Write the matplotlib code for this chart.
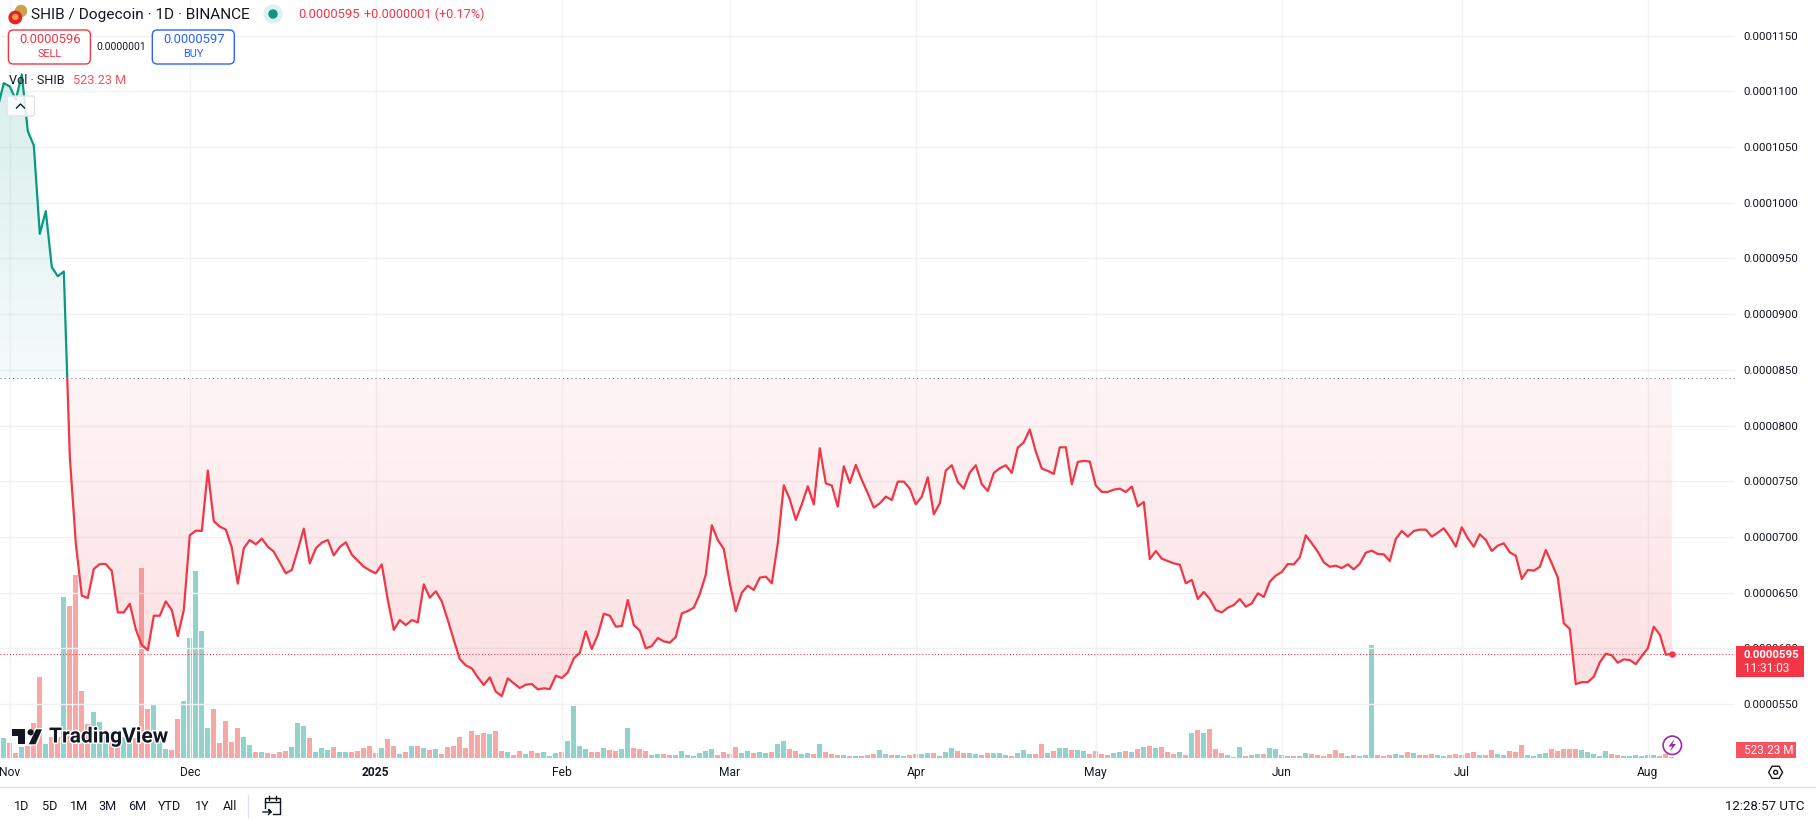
import numpy as np
import matplotlib
matplotlib.use("Agg")
import matplotlib.pyplot as plt
import matplotlib.patheffects as pe
from matplotlib.patches import Rectangle, FancyBboxPatch, Circle, Polygon

plt.rcParams['font.family'] = ['Roboto', 'DejaVu Sans']

# --- Data ---
# daily close in units of 0.0000001, first day is just off the left edge
close = [1086, 1107.4, 1104.4, 1092.5, 1115.2, 1064.3, 1051.5, 972.1, 992.5, 942.2, 934.1, 938.3,
         772, 694.3, 647.3, 645.2, 671.3, 675.7, 675.7, 669.4, 632.3, 632.3,
         640.1, 617.1, 603, 598.5, 629.3, 629.3, 642.2, 634.4, 611, 634.4,
         701.5, 705.7, 705.4, 759.6, 714.1, 709.3, 706.6, 690.4, 658.1, 689.8,
         697.3, 693.4, 698.5, 691.3, 686.8, 677, 667.4, 670.4, 688.3, 707.5,
         676.3, 689.8, 694.9, 697.3, 683.5, 691, 695.2, 684.1, 678.7, 673.3,
         670, 667.4, 675.4, 643.4, 616.5, 625.4, 620.9, 625.4, 623.3, 657.5,
         645.5, 651.2, 642.2, 625.4, 607.5, 590.4, 584.7, 582, 574, 567.1,
         574, 561.1, 557.2, 573.1, 568.6, 564.4, 567.4, 568, 563.2, 564.1,
         563.5, 575.4, 573.4, 578.4, 591, 596.1, 615.3, 599.4, 612,
         631.1, 629.3, 619.5, 620.1, 643.4, 620.9, 615.9, 600, 602.1, 609.3,
         606.3, 605.1, 610.2, 631.4, 633.5, 636.5, 648.8, 666.2, 710.5, 697.3,
         689.2, 658.4, 633.2, 650, 656.3, 652.4, 663.5, 664.4, 658.4, 694.3,
         746.4, 733.8, 715.3, 729.3, 745.5, 729.3, 779.6, 748.2, 746.1, 727.2,
         763.5, 748.5, 764.7, 751.2, 739.2, 726.3, 730.2, 736.2, 733.2, 749.7,
         749.7, 743.4, 729.3, 736.2, 753.6, 720.4, 730.2, 759.6, 764.4, 749.4,
         743.4, 757.8, 764.4, 747.3, 741.3, 757.5, 761.7, 764.4, 757.5, 780.2,
         785, 796.4, 776.6, 761.4, 759.3, 756.6, 780.5, 780.5, 747.3, 767.4,
         768.3, 767.7, 746.1, 740.4, 740.4, 742.5, 743.4, 740.4, 745.2, 727.5,
         731.4, 680.2, 687.4, 680.5, 678.4, 676.3, 675.1, 658.4, 661.4, 644.3,
         650.6, 644.3, 634.4, 632.3, 636.5, 638.9, 644.3, 637.4, 640.4, 649.4,
         646.1, 659.9, 665.3, 668.6, 675.7, 675.4, 681.7, 701.5, 694.3, 686.8,
         677.2, 673.3, 674.2, 672.1, 675.4, 670.9, 676, 685.9, 687.7, 684.7,
         684.4, 678.4, 698.2, 705.4, 700.3, 705.4, 706.6, 706.6, 700.3, 703.9,
         707.8, 700.3, 691.3, 708.7, 698.8, 691.3, 702.4, 697.3, 687.4, 692.2,
         694.3, 686.2, 683.2, 662.3, 670.4, 669.8, 673.1, 688.3, 676.3, 663.5,
         622.5, 617.4, 567.9, 569.7, 569.7, 574.5, 587.4, 595.2, 593.7, 587.1,
         590.1, 589.5, 585.9, 593.1, 600, 619.5, 612.3, 594.3, 595.2]

# volume, arbitrary scale (bar height as read)
vol = [30, 60, 45, 15, 33, 36, 105, 243, 42, 64,
       64, 483, 456, 549, 201, 102, 138, 108, 84, 54,
       34, 64, 44, 59, 570, 147, 159, 54, 27, 24,
       117, 171, 360, 561, 381, 90, 147, 45, 111, 48,
       90, 63, 39, 18, 18, 15, 12, 18, 21, 33,
       105, 96, 60, 18, 30, 24, 33, 18, 18, 18,
       21, 30, 36, 15, 30, 57, 36, 12, 18, 36,
       36, 30, 24, 27, 12, 33, 36, 63, 30, 81,
       69, 75, 72, 81, 21, 18, 9, 21, 12, 21,
       15, 18, 6, 15, 18, 51, 156, 36, 27, 18,
       18,
       30, 24, 21, 27, 90, 30, 27, 21, 9, 12,
       12, 9, 9, 21, 9, 6, 15, 21, 27, 9,
       18, 12, 33, 15, 21, 15, 18, 15, 18, 42,
       51, 27, 21, 12, 15, 12, 42, 18, 12, 9,
       9, 6, 6, 6, 9, 12, 24, 12, 9, 9,
       6, 9, 12, 12, 15, 15, 6, 18, 30, 21,
       15, 15, 12, 9, 15, 15, 15, 9, 6, 15,
       24, 12, 12, 42, 15, 21, 30, 30, 24, 24,
       21, 12, 21, 12, 9, 15, 18, 21, 18, 27,
       33, 36, 30, 33, 18, 12, 18, 9, 75, 84,
       75, 87, 27, 15, 9, 3, 33, 6, 9, 12,
       12, 30, 27, 9, 6, 6, 6, 15, 12, 9,
       6, 12, 24, 15, 6, 9, 6, 9, 339, 9,
       6, 9, 12, 9, 18, 15, 9, 9, 12, 9,
       6, 9, 12, 9, 15, 18, 9, 9, 24, 12,
       9, 21, 18, 39, 9, 6, 12, 15, 27, 21,
       27, 27, 27, 24, 18, 12, 6, 21, 12, 9,
       6, 6, 9, 6, 9, 9, 6, 12, 4]

vol_dir = ("ggrrgrrrgr" "rgrrrrgggr" "rggrrrgggr" "rgggggrrrr" "rggrgrrrrg"
           "ggrgggrggr" "rrrrgrrgrg" "rgrgrrrrrr" "rrgrrgrrgr" "rgggrggggr" "r"
           "grrggrrrgg" "rrgggggggr" "rrrggrggrg" "grrggrgrrr" "grgrrrggrg"
           "grrggrgggr" "rggrrgggrg" "ggrrgrggrg" "grrrrggrgr" "grgrrrgrgr"
           "grrrgggrgg" "rggggrggrr" "rrrrgrgggr" "rrggrgrrrg" "grrgrrgrrg"
           "grrrggggrr" "rrrgggggrr" "ggggggrrr")

base_price = 842.4
last_price = 595
price_ticks = [550, 600, 650, 700, 750, 800, 850, 900, 950, 1000, 1050, 1100, 1150]
month_pos = [2, 32, 63, 94, 122, 153, 183, 214, 244, 275]
month_labels = ['Nov', 'Dec', '2025', 'Feb', 'Mar', 'Apr', 'May', 'Jun', 'Jul', 'Aug']
ranges = ['1D', '5D', '1M', '3M', '6M', 'YTD', '1Y', 'All']

RED = '#f23645'
TEAL = '#089981'
BLUE = '#2962ff'
INK = '#131722'

W, H = 1816, 822
PX = 0.72  # font px -> pt at dpi 100

# --- Axes ---
close = np.array(close)
x = np.arange(len(close))
fig = plt.figure(figsize=(W / 100, H / 100), dpi=100, facecolor='white')

# plot pane: 0..1735 px wide, 0..758 px down
pane = [0, 1 - 758 / H, 1735 / W, 758 / H]
ax_vol = fig.add_axes(pane, zorder=1)
ax = fig.add_axes(pane, zorder=2)
ax.patch.set_visible(False)

xlim = (2.2 / 6, (1735 + 2.2) / 6)
ylim = (1150 - (758 - 35.7) * 0.8977, 1150 + 35.7 * 0.8977)

# --- Volume ---
bar_colors = ['#26a69a' if d == 'g' else '#ef5350' for d in vol_dir]
ax_vol.bar(x, vol, width=0.8, color=bar_colors, alpha=0.5, linewidth=0)
ax_vol.set_xlim(xlim)
ax_vol.set_ylim(0, 758 * 3)
ax_vol.axis('off')


def gradient_fill(where, rgb, a_base, a_far, far):
    poly = ax.fill_between(x, close, base_price, where=where, interpolate=True, color='none')
    path = poly.get_paths()[0]
    grad = np.zeros((256, 1, 4))
    grad[..., 0], grad[..., 1], grad[..., 2] = rgb
    grad[:, 0, 3] = np.linspace(a_far, a_base, 256)
    lo, hi = min(far, base_price), max(far, base_price)
    if far > base_price:
        grad = grad[::-1]
    im = ax.imshow(grad, extent=(xlim[0], xlim[1], lo, hi), origin='lower', aspect='auto', zorder=1)
    im.set_clip_path(path, transform=ax.transData)
    poly.remove()


gradient_fill(close >= base_price, matplotlib.colors.to_rgb(TEAL), 0.04, 0.16, close.max())
gradient_fill(close <= base_price, matplotlib.colors.to_rgb(RED), 0.05, 0.16, close.min())

# --- Price line, coloured either side of the baseline ---
for col, rect in [(TEAL, (xlim[0], base_price, xlim[1], ylim[1])),
                  (RED, (xlim[0], ylim[0], xlim[1], base_price))]:
    ln, = ax.plot(x, close, color=col, lw=1.6, solid_joinstyle='round', zorder=3)
    ln.set_clip_path(Rectangle((rect[0], rect[1]), rect[2] - rect[0], rect[3] - rect[1],
                               transform=ax.transData))

ax.axhline(base_price, color='#787b86', lw=0.75, ls=(0, (1, 3)), zorder=2)
ax.axhline(last_price, color=RED, lw=0.75, ls=(0, (1, 2)), zorder=2)
ax.plot(x[-1], close[-1], 'o', color=RED, ms=4.6, mec='none', zorder=4)

ax.set_xlim(xlim)
ax.set_ylim(ylim)
ax.yaxis.tick_right()
ax.set_yticks(price_ticks)
ax.set_yticklabels(['0.%07d' % p for p in price_ticks], fontsize=11.5 * PX, color=INK)
ax.set_xticks(month_pos)
ax.set_xticklabels(month_labels, fontsize=12 * PX, color=INK)
ax.get_xticklabels()[2].set_fontweight('bold')
ax.tick_params(axis='both', length=0)
ax.tick_params(axis='y', pad=6.2)
ax.tick_params(axis='x', pad=5.6)
ax.grid(True, axis='y', color='#f1f1f2', lw=1)
ax.grid(True, axis='x', color='#f3f3f4', lw=1)
ax.set_axisbelow(True)
for s in ax.spines.values():
    s.set_visible(False)

# --- Chrome drawn in pixel coordinates ---
ui = fig.add_axes([0, 0, 1, 1], zorder=5)
ui.set_xlim(0, W)
ui.set_ylim(H, 0)
ui.axis('off')


def label(px, py, s, size=11.5, color=INK, ha='left', **kw):
    return ui.text(px, py, s, fontsize=size * PX, color=color, ha=ha, va='center', **kw)


# header
ui.add_patch(Circle((21, 11), 5.5, color='#c9a24a'))
ui.add_patch(Circle((15.3, 17.5), 6.2, color='#e8202a'))
ui.add_patch(Circle((15.3, 17), 2.5, color='#f0a040'))
label(31, 14.5, 'SHIB / Dogecoin · 1D · BINANCE', 15.4)
ui.add_patch(Circle((273, 14), 9, color='#dff1ee'))
ui.add_patch(Circle((273, 14), 4, color=TEAL))
label(298, 14.5, '0.0000595', 13, RED)
label(364, 14.5, '+0.0000001 (+0.17%)', 12.6, RED)

# sell / buy boxes
for bx, col, price, side in [(8.4, RED, '0.0000596', 'SELL'), (152.3, BLUE, '0.0000597', 'BUY')]:
    ui.add_patch(FancyBboxPatch((bx + 3, 33), 76, 28, boxstyle='round,pad=3,rounding_size=5',
                                fc='white', ec=col, lw=1))
    label(bx + 41.2, 39.7, price, 13, col, ha='center')
    label(bx + 41.2, 54, side, 11, col, ha='center')
label(121.3, 46.5, '0.0000001', 10.3, ha='center')

# volume legend and collapse button
label(9, 80.7, 'Vol · SHIB', 12.6)
label(73, 80.7, '523.23 M', 12.6, '#f7525f')
ui.add_patch(FancyBboxPatch((9, 98), 23.5, 16, boxstyle='round,pad=2,rounding_size=2',
                            fc=(1, 1, 1, 0.85), ec='#e0e3eb', lw=1))
ui.plot([16.5, 20.5, 24.5], [108, 104, 108], color=INK, lw=1)

# tradingview watermark
halo = [pe.withStroke(linewidth=2, foreground='white')]
for shape in ([(11.5, 729.3), (25, 729.3), (25, 744.3), (18, 744.3), (18, 735.5), (11.5, 735.5)],
              [(42, 729.3), (36, 729.3), (28.7, 744.3), (35.5, 744.3)]):
    p = Polygon(shape, closed=True, fc=INK, ec='none')
    p.set_path_effects([pe.withStroke(linewidth=2, foreground='white')])
    ui.add_patch(p)
ui.add_patch(Circle((30.6, 732.3), 3.1, fc=INK, ec='none'))
label(49, 737, 'TradingView', 21, INK, fontweight='bold', path_effects=halo)

# price and volume tags
ui.add_patch(Rectangle((1736, 646), 68, 30.7, fc=RED, ec='none'))
label(1744, 654.7, '0.0000595', 11.5, 'white', fontweight='bold')
label(1744, 668.7, '11:31:03', 11.8, 'white')
ui.add_patch(Rectangle((1736, 742.3), 60, 15.7, fc='#f7525f', ec='none'))
label(1744, 750.5, '523.23 M', 11.8, 'white')

# lightning badge
ui.add_patch(Circle((1672.3, 745.3), 9.2, fc=(1, 1, 1, 0.7), ec='#9c27b0', lw=1.2))
ui.add_patch(Polygon([(1674.5, 739), (1668.5, 746.5), (1672, 746.5), (1670, 751.5),
                      (1676, 744), (1672.5, 744)], closed=True, fc='#9c27b0', ec='none'))

# settings hexagon at the scale corner
ang = np.radians(np.arange(0, 360, 60))
ui.add_patch(Polygon(np.c_[1775.6 + 7 * np.cos(ang), 772.3 + 7 * np.sin(ang)], closed=True,
                     fc='none', ec=INK, lw=1))
ui.add_patch(Circle((1775.6, 772.3), 2, fc='none', ec=INK, lw=1))

# bottom toolbar
ui.plot([0, W], [786.7, 786.7], color='#e0e3eb', lw=1)
for cx, r in zip([21.8, 49.8, 78.8, 108, 137, 170, 202.5, 230], ranges):
    label(cx, 806.5, r, 12.6, ha='center')
ui.plot([248.4, 248.4], [795, 816.7], color='#e0e3eb', lw=1)
ui.plot([264.5, 264.5, 280, 280, 272.5], [808, 798, 798, 814, 814], color=INK, lw=1)
ui.plot([264.5, 280], [801.5, 801.5], color=INK, lw=1)
ui.plot([269, 269], [796, 799.5], color=INK, lw=1)
ui.plot([276, 276], [796, 799.5], color=INK, lw=1)
ui.plot([263, 271, 268.5, 271, 268.5], [812, 812, 809.5, 812, 814.5], color=INK, lw=1)
label(1804, 806.5, '12:28:57 UTC', 13.3, ha='right')

fig.savefig('out.png', dpi=100)
